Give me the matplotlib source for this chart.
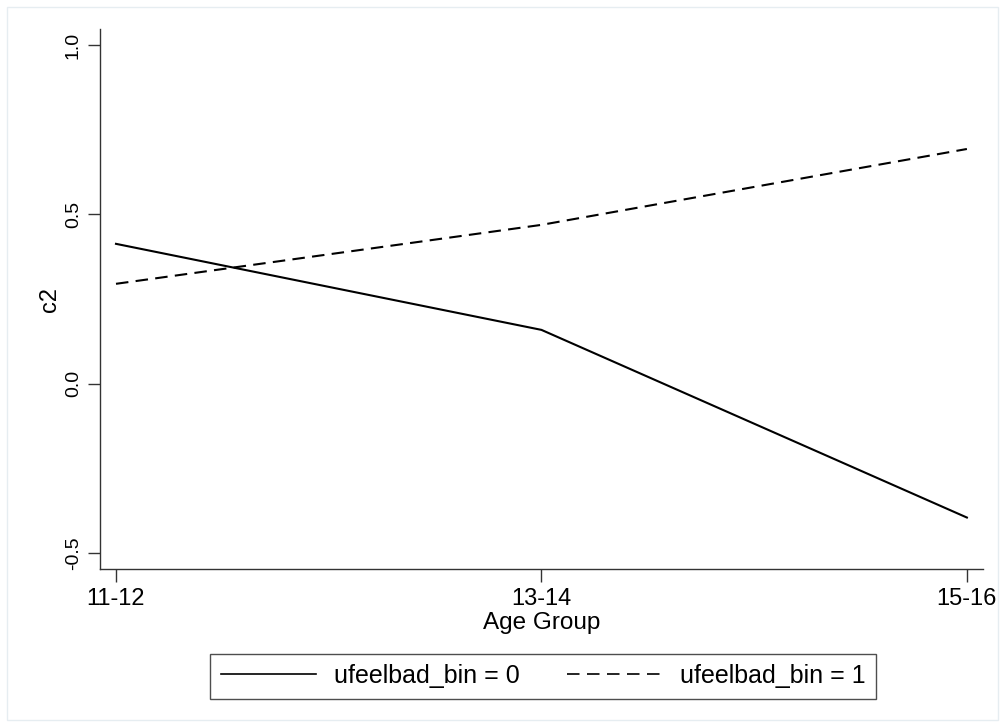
import matplotlib.pyplot as plt
from matplotlib.lines import Line2D
from matplotlib.patches import Rectangle

plt.rcParams["font.family"] = ["Liberation Sans", "DejaVu Sans"]

age_groups = ["11-12", "13-14", "15-16"]
bin0 = [0.413, 0.159, -0.395]
bin1 = [0.295, 0.469, 0.693]
yticks = [-0.5, 0.0, 0.5, 1.0]
ytick_labels = ["-0.5", "0.0", "0.5", "1.0"]
series_labels = ["ufeelbad_bin = 0", "ufeelbad_bin = 1"]

fig = plt.figure(figsize=(10.05, 7.27), dpi=100)
ax = fig.add_axes([0.0995, 0.2173, 0.8785, 0.7427])

# faint outer border of the graph region
fig.patches.append(Rectangle((7 / 1005, 7 / 727), 991 / 1005, 713 / 727,
                             transform=fig.transFigure, fill=False,
                             edgecolor="#e6edf1", lw=1.0))

x = list(range(len(age_groups)))
ax.plot(x, bin0, color="black", lw=1.5)
ax.plot(x, bin1, color="black", lw=1.5, linestyle=(0, (6, 3.5)))

ax.set_xlim(-0.0376, 2.0376)
ax.set_ylim(-0.547, 1.047)
ax.set_xticks(x)
ax.set_xticklabels(age_groups)
ax.set_yticks(yticks)
ax.set_yticklabels(ytick_labels, rotation=90, va="center")

for side in ["top", "right"]:
    ax.spines[side].set_visible(False)
for side in ["left", "bottom"]:
    ax.spines[side].set_linewidth(1.0)
    ax.spines[side].set_color("#333333")
ax.tick_params(direction="out", length=9, width=1.0, color="#333333")
ax.tick_params(axis="x", labelsize=17, pad=5)
ax.tick_params(axis="y", labelsize=14, pad=4)

ax.set_xlabel("Age Group", fontsize=17.5, labelpad=1)
ax.set_ylabel("c2", fontsize=17, labelpad=3)

handles = [
    Line2D([], [], color="black", lw=1.2),
    Line2D([], [], color="black", lw=1.2, linestyle=(0, (7.5, 4.5))),
]
leg = fig.legend(handles, series_labels, loc="center",
                 bbox_to_anchor=(543 / 1005, 1 - 676 / 727),
                 ncol=2, fontsize=18, frameon=True, fancybox=False,
                 edgecolor="#222222", handlelength=3.8, columnspacing=1.9,
                 borderpad=0.42, handletextpad=0.72)
leg.get_frame().set_linewidth(1.0)

fig.savefig("out.png", dpi=100)
